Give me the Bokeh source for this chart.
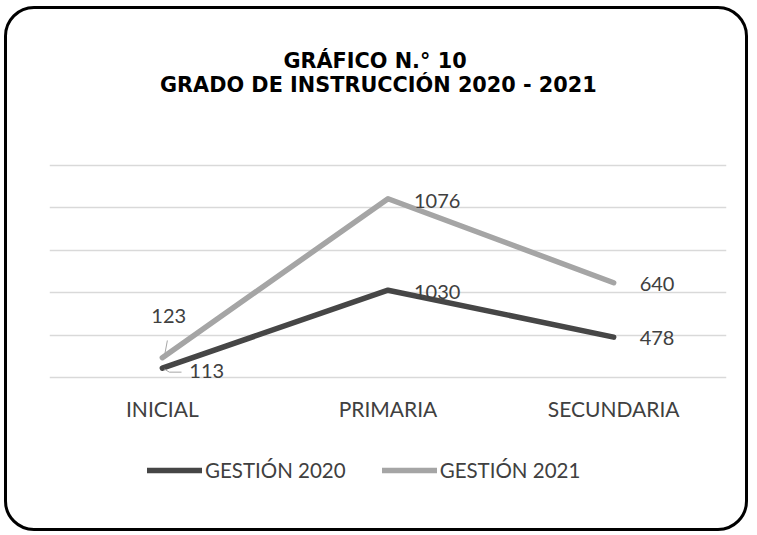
from bokeh.plotting import figure
from bokeh.models import Range1d, FixedTicker, ColumnDataSource, Label, Legend, LegendItem
from bokeh.transform import stack
from bokeh.core.properties import value
from bokeh.embed import file_html
from bokeh.resources import INLINE

# ---------------- data ----------------
categories = ["INICIAL", "PRIMARIA", "SECUNDARIA"]
gestion_2020 = [113, 1030, 478]
gestion_2021 = [123, 1076, 640]
series_names = ["GESTIÓN 2020", "GESTIÓN 2021"]
y_ticks = [0, 500, 1000, 1500, 2000, 2500]
title_lines = ["GRÁFICO N.° 10", "GRADO DE INSTRUCCIÓN  2020 - 2021"]

# ---------------- layout / style ----------------
BASE = 3                      # page offset observed before the figure
MARGIN_X, MARGIN_Y = 4, 6
BORDER = 3
W, H = 738, 519
OX, OY = BASE + MARGIN_X + BORDER, BASE + MARGIN_Y + BORDER   # page position of canvas origin
PLOT_L, PLOT_R = 52, 723      # page x of plot area
Y0_PAGE, YTOP_PAGE = 376, 166  # page y of first / last gridline
units_per_px = (y_ticks[-1] - y_ticks[0]) / (Y0_PAGE - YTOP_PAGE)
y_start = -(OY + H - Y0_PAGE) * units_per_px
y_end = (Y0_PAGE - OY) * units_per_px
px_per_cat = (PLOT_R - PLOT_L) / len(categories)

COL_2020 = "#464646"
COL_2021 = "#a5a5a5"
TEXT_COL = "#404040"
FONT = "Lato"

# label placement offsets (pixels), per point
dx_2020 = [27, 26, 26]
dy_2020 = [3, 2, 1]
dx_2021 = [-11, 26, 26]
dy_2021 = [-42, 2, 1]

p = figure(width=W, height=H, output_backend="svg", toolbar_location=None,
           x_range=Range1d(-0.5, len(categories) - 0.5),
           y_range=Range1d(y_start, y_end),
           y_axis_location=None,
           min_border_left=PLOT_L - OX, min_border_right=OX + W - PLOT_R,
           min_border_top=0, min_border_bottom=0)
p.outline_line_color = None
p.background_fill_color = None
p.border_fill_color = None
p.styles = {"border": f"{BORDER}px solid black", "border-radius": "30px",
            "overflow": "hidden", "box-sizing": "content-box",
            "margin-left": f"{MARGIN_X}px", "margin-top": f"{MARGIN_Y}px"}

# grid
p.xgrid.visible = False
p.ygrid.ticker = FixedTicker(ticks=y_ticks)
p.ygrid.grid_line_color = "#d9d9d9"
p.ygrid.grid_line_width = 1.3

# x axis
ax = p.xaxis[0]
ax.ticker = FixedTicker(ticks=list(range(len(categories))))
ax.major_label_overrides = {i: c for i, c in enumerate(categories)}
ax.fixed_location = 0
ax.axis_line_color = None
ax.major_tick_line_color = None
ax.minor_tick_line_color = None
ax.major_tick_out = 0
ax.major_tick_in = 0
ax.major_label_standoff = 18
ax.major_label_text_font = FONT
ax.major_label_text_font_size = "21px"
ax.major_label_text_color = TEXT_COL

src = ColumnDataSource(dict(
    x=list(range(len(categories))),
    g2020=gestion_2020, g2021=gestion_2021,
    t2020=[str(v) for v in gestion_2020], t2021=[str(v) for v in gestion_2021],
    dx2020=dx_2020, dy2020=dy_2020, dx2021=dx_2021, dy2021=dy_2021,
))

rends = p.vline_stack(["g2020", "g2021"], x="x", source=src,
                      color=[COL_2020, COL_2021], line_width=5.5,
                      line_cap="round", line_join="round")

# leader lines for the first category labels
cum_2020 = list(gestion_2020)
cum_2021 = [a + b for a, b in zip(gestion_2020, gestion_2021)]
lead_2021 = [(5, -17), (2, -1)]
lead_2020 = [(2, 1), (7, 4), (19, 4)]
lxs = [[0 + dx / px_per_cat for dx, dy in lead_2021], [0 + dx / px_per_cat for dx, dy in lead_2020]]
lys = [[cum_2021[0] - dy * units_per_px for dx, dy in lead_2021],
       [cum_2020[0] - dy * units_per_px for dx, dy in lead_2020]]
p.multi_line(xs=lxs, ys=lys, line_color="#a6a6a6", line_width=1)

# data labels
p.text(x="x", y=stack("g2020"), text="t2020", source=src, x_offset="dx2020", y_offset="dy2020",
       text_font=value(FONT), text_font_size="20px", text_color=TEXT_COL,
       text_align="left", text_baseline="middle")
p.text(x="x", y=stack("g2020", "g2021"), text="t2021", source=src, x_offset="dx2021", y_offset="dy2021",
       text_font=value(FONT), text_font_size="20px", text_color=TEXT_COL,
       text_align="left", text_baseline="middle")

# legend
legend = Legend(items=[LegendItem(label=series_names[i], renderers=[rends[i]]) for i in range(2)],
                location=(150 - PLOT_L, 52), orientation="horizontal",
                glyph_width=55, glyph_height=22, label_height=22, label_standoff=3,
                spacing=36, padding=0, margin=0,
                border_line_color=None, background_fill_color=None, background_fill_alpha=0,
                label_text_font=FONT, label_text_font_size="20.5px", label_text_color=TEXT_COL)
p.add_layout(legend)

# title (two lines)
title_pos = [(377.5, 57.5), (384.5, 81)]
for txt, (tx, ty) in zip(title_lines, title_pos):
    p.add_layout(Label(x=tx - PLOT_L, y=OY + H - ty, x_units="screen", y_units="screen",
                       text=txt, text_align="center", text_baseline="middle",
                       text_font="DejaVu Sans", text_font_style="bold",
                       text_font_size="20.8px", text_color="black"))

open("out.html", "w").write(file_html(p, INLINE))
